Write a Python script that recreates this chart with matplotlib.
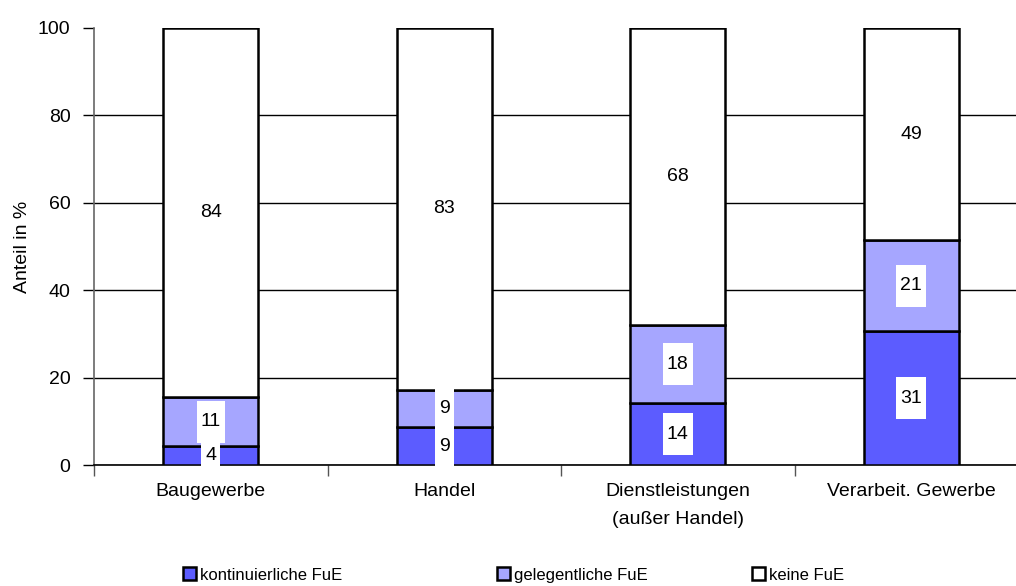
import matplotlib
matplotlib.use("Agg")
import matplotlib.pyplot as plt
from matplotlib.patches import Patch, Rectangle

# Anteil der Unternehmen nach FuE-Aktivität, je Branche (in %)
categories = ["Baugewerbe", "Handel", "Dienstleistungen\n(außer Handel)", "Verarbeit. Gewerbe"]
kontinuierlich = [4.3, 8.6, 14.1, 30.6]
gelegentlich = [11.3, 8.6, 17.9, 20.8]
keine = [84.4, 82.8, 68.0, 48.6]
series_names = ["kontinuierliche FuE", "gelegentliche FuE", "keine FuE"]
yticks = [0, 20, 40, 60, 80, 100]

plt.rcParams["font.family"] = ["Liberation Sans", "DejaVu Sans"]
fs = 14
fs_legend = 12

W, H = 1016, 586
fig = plt.figure(figsize=(W / 100, H / 100), dpi=100)
ax = fig.add_axes([94 / W, (H - 465) / H, (1028 - 94) / W, (465 - 28) / H])

colors = ["#5C5CFF", "#A6A6FF", "#FFFFFF"]
x = list(range(len(categories)))
bw = 0.406
bottom = [0.0] * len(categories)
labels = []
for vals, col in zip([kontinuierlich, gelegentlich, keine], colors):
    ax.bar(x, vals, bw, bottom=bottom, color=col, edgecolor="black",
           linewidth=1.8, zorder=3)
    for xi, v, b in zip(x, vals, bottom):
        t = ax.text(xi, b + v / 2, f"{v:.0f}", ha="center", va="center",
                    fontsize=fs, color="black", zorder=6)
        labels.append(t)
    bottom = [b + v for b, v in zip(bottom, vals)]

ax.set_xlim(-0.5, 3.5)
ax.set_ylim(0, 100)
ax.set_yticks(yticks)
ax.set_yticklabels([str(t) for t in yticks], fontsize=fs)
ax.yaxis.grid(True, color="black", linewidth=1.0, zorder=0)
ax.set_axisbelow(True)
ax.get_ygridlines()[-1].set_visible(False)

# category boundaries carry the ticks, the names sit between them
ax.set_xticks([-0.5, 0.5, 1.5, 2.5, 3.5])
ax.set_xticklabels([])
ax.set_xticks(x, minor=True)
ax.set_xticklabels(categories, minor=True, fontsize=fs, linespacing=1.85)
ax.tick_params(axis="x", which="minor", length=0, pad=13)
ax.tick_params(axis="x", which="major", length=8, width=1, color="#555555", direction="out")
ax.tick_params(axis="y", length=8, width=1, color="black", pad=9)

for s in ["top", "right"]:
    ax.spines[s].set_visible(False)
ax.spines["left"].set_color("#666666")
ax.spines["left"].set_linewidth(1.2)
ax.spines["bottom"].set_color("black")
ax.spines["bottom"].set_linewidth(1.2)

ax.set_ylabel("Anteil in %", fontsize=fs)
ax.yaxis.set_label_coords(-63 / (1028 - 94), 0.5)

# legend entries laid out along the bottom
legend_x = [183, 497, 752]
for name, col, lx in zip(series_names, colors, legend_x):
    fig.legend(handles=[Patch(facecolor=col, edgecolor="black", linewidth=1.8)],
               labels=[name], loc="center left",
               bbox_to_anchor=(lx / W, (H - 575) / H), frameon=False,
               fontsize=fs_legend, handlelength=0.8, handleheight=0.8,
               handletextpad=0.2, borderpad=0, borderaxespad=0)

# white boxes behind the value labels (tall, narrow)
fig.canvas.draw()
renderer = fig.canvas.get_renderer()
for t in labels:
    bb = t.get_window_extent(renderer)
    cx, cy = (bb.x0 + bb.x1) / 2, (bb.y0 + bb.y1) / 2
    w = bb.width + 8
    h = 42
    ax.add_patch(Rectangle((cx - w / 2, cy - h / 2), w, h, transform=None,
                           facecolor="white", edgecolor="none", zorder=5,
                           clip_on=False))

fig.savefig("out.png", dpi=100)
